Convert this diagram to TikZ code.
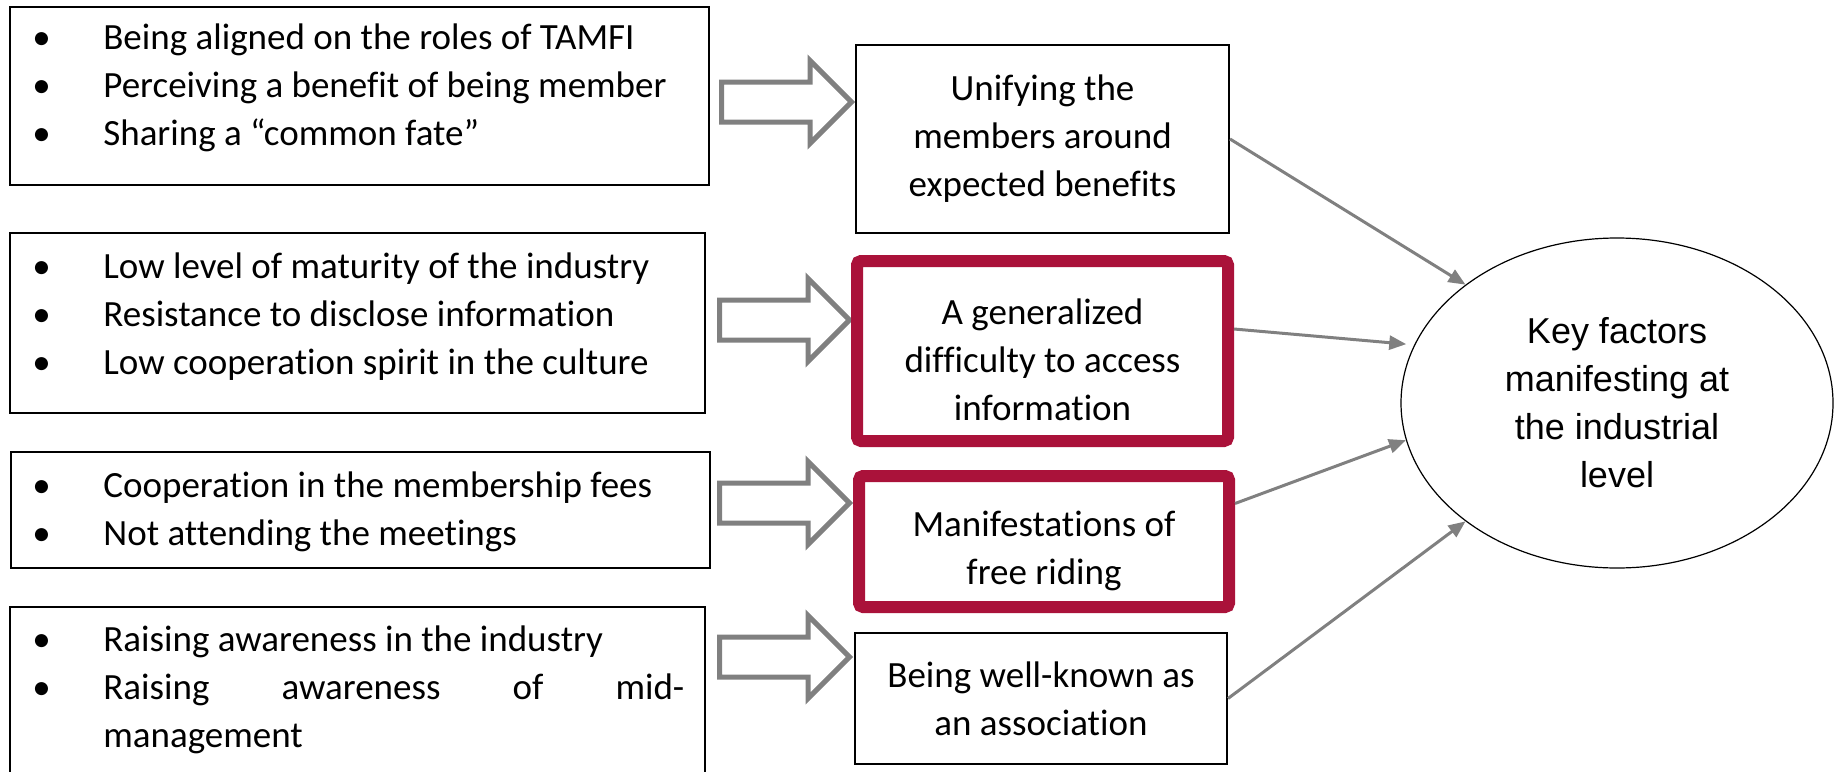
\documentclass[tikz,border=0pt]{standalone}
\usepackage{fontspec}
\setmainfont{Carlito}[Ligatures={NoCommon}]
\newfontfamily\arialfont{Liberation Sans}
\usetikzlibrary{shapes.arrows,shapes.geometric,arrows.meta}
\definecolor{boxred}{RGB}{170,18,58}
\definecolor{arrowgray}{RGB}{128,128,128}
% bullet followed by its hanging indent
\newcommand{\bul}{\makebox[35.5pt][l]{\textbullet}}
% taller first line, pushes the text a little down in its box
\newcommand{\lowtop}{\rule{0pt}{22pt}}

\begin{document}
\begin{tikzpicture}[x=0.5pt,y=-0.5pt,
    blackbox/.style={draw,line width=1pt,inner sep=0pt},
    redbox/.style={draw=boxred,line width=6pt,rounded corners=2pt,inner sep=0pt},
    factor/.style={align=center,font=\fontsize{18.5}{24}\selectfont},
    items/.style={align=left,anchor=base west,inner sep=0pt,font=\fontsize{18.5}{24}\selectfont},
    blockarrow/.style={single arrow,draw=arrowgray,line width=2.5pt,fill=white,anchor=tail,
      minimum height=65pt,inner xsep=0pt,inner ysep=8.75pt,single arrow head extend=10.75pt},
    link/.style={draw=arrowgray,line width=1.5pt,-{Triangle[length=8.5pt,width=7pt]}}]
  \useasboundingbox (0,0) rectangle (1834,771);

  % left column: bullet lists (placed by the baseline of their last line)
  \node[blackbox,minimum width=349.5pt,minimum height=89pt] (B1) at (359.5,96) {};
  \node[blackbox,minimum width=347.5pt,minimum height=90pt] (B2) at (357.5,323) {};
  \node[blackbox,minimum width=349.5pt,minimum height=58pt] (B3) at (360.5,510) {};
  \node[blackbox,minimum width=347.5pt,minimum height=100pt] (B4) at (357.5,707) {};
  \node[items] (L1) at (32,145) {\bul Being aligned on the roles of TAMFI\\
    \bul Perceiving a benefit of being member\\
    \bul Sharing a “common fate”};
  \node[items] (L2) at (32,374) {\bul Low level of maturity of the industry\\
    \bul Resistance to disclose information\\
    \bul Low cooperation spirit in the culture};
  \node[items] (L3) at (32,545) {\bul Cooperation in the membership fees\\
    \bul Not attending the meetings};
  \node[items] (L4) at (32,747) {\bul Raising awareness in the industry\\
    \bul\makebox[290.5pt][s]{Raising awareness of mid-}\\
    \hspace*{35.5pt}management};

  % block arrows
  \node[blockarrow] (A1) at (719,102) {};
  \node[blockarrow] (A2) at (717,320) {};
  \node[blockarrow] (A3) at (717,503) {};
  \node[blockarrow] (A4) at (717,657) {};

  % middle column
  \node[blackbox,factor,minimum width=186.5pt,minimum height=94pt] (F1) at (1042.5,139)
    {Unifying the\\members around\\expected benefits};
  \node[redbox,factor,minimum width=185.5pt,minimum height=90pt] (F2) at (1042.5,351)
    {\lowtop A generalized\\difficulty to access\\information};
  \node[redbox,factor,minimum width=185pt,minimum height=65.5pt] (F3) at (1044,541.5)
    {\lowtop Manifestations of\\free riding};
  \node[blackbox,factor,minimum width=186pt,minimum height=65.5pt] (F4) at (1041,698.5)
    {Being well-known as\\an association};

  % outcome
  \node[ellipse,draw,line width=0.6pt,minimum width=216pt,minimum height=165pt,align=center,
    font=\arialfont\fontsize{18}{24}\selectfont] (K) at (1617,403)
    {Key factors\\manifesting at\\the industrial\\level};

  \draw[link] (F1.east) -- (K.142);
  \draw[link,shorten >=4pt] ([yshift=11pt]F2.east) -- (K.164);
  \draw[link] ([yshift=19pt]F3.east) -- (K.190);
  \draw[link] (F4.east) -- (K.218);
\end{tikzpicture}
\end{document}
